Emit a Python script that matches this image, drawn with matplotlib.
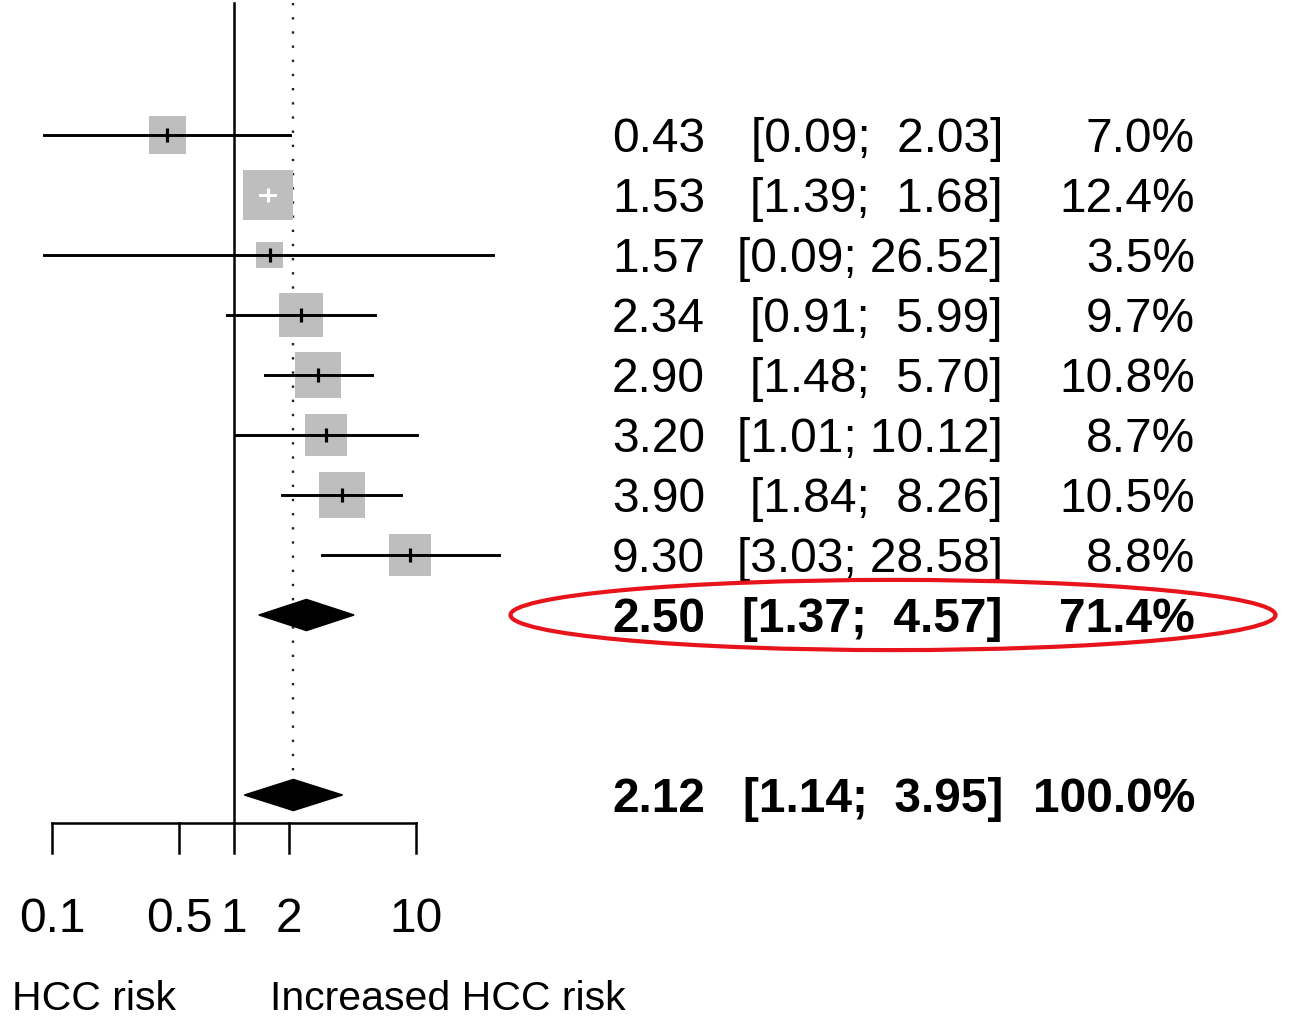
import matplotlib
matplotlib.use("Agg")
import matplotlib.pyplot as plt
import matplotlib.transforms as mtransforms
from matplotlib.patches import Ellipse, Polygon
import numpy as np

plt.rcParams["font.family"] = ["Liberation Sans", "DejaVu Sans"]

# study estimates (hazard ratio, 95% CI, weight %)
est = [0.43, 1.53, 1.57, 2.34, 2.90, 3.20, 3.90, 9.30]
lower = [0.09, 1.39, 0.09, 0.91, 1.48, 1.01, 1.84, 3.03]
upper = [2.03, 1.68, 26.52, 5.99, 5.70, 10.12, 8.26, 28.58]
weight = [7.0, 12.4, 3.5, 9.7, 10.8, 8.7, 10.5, 8.8]

# pooled estimates: subgroup and overall
pooled_est = [2.50, 2.12]
pooled_lower = [1.37, 1.14]
pooled_upper = [4.57, 3.95]
pooled_weight = [71.4, 100.0]

tick_values = [0.1, 0.5, 1, 2, 10]
tick_labels = ["0.1", "0.5", "1", "2", "10"]

W, H, DPI = 1291, 1016, 100
fig = plt.figure(figsize=(W / DPI, H / DPI), dpi=DPI)
ax = fig.add_axes([0, 0, 1, 1])
ax.set_xscale("log")
# 1 decade = 182 px, x=1 sits at 234 px; one row = 60 px, first row at 135 px
ax.set_xlim(10 ** (-234 / 182), 10 ** ((W - 234) / 182))
ax.set_ylim((H - 135) / 60, -135 / 60)
ax.axis("off")

rows = np.arange(len(est))
pooled_rows = [len(est), len(est) + 3]
axis_y = 11.47
top_y = -2.2

# reference line at 1 and dotted line at the overall estimate
ax.plot([1, 1], [top_y, axis_y], color="black", lw=1.8, zorder=2)
ax.plot([pooled_est[1]] * 2, [top_y, pooled_rows[1] - 0.25], color="#222222",
        lw=1.7, linestyle=(0, (1, 5)), zorder=1)

# squares, side proportional to sqrt(weight)
side_px = 14.2 * np.sqrt(weight)
ax.scatter(est, rows, marker="s", s=(side_px * 0.72) ** 2, color="#BEBEBE",
           edgecolors="none", zorder=3)

for i in rows:
    x0, _ = ax.transData.transform((lower[i], i))
    x1, _ = ax.transData.transform((upper[i], i))
    xc, _ = ax.transData.transform((est[i], i))
    inside = (xc - side_px[i] / 2 <= x0) and (x1 <= xc + side_px[i] / 2)
    col = "white" if inside else "black"
    ax.plot([lower[i], upper[i]], [i, i], color=col, lw=2.1, zorder=4)
    ax.plot(est[i], i, marker="|", markersize=10.5, mew=2.3, color=col, zorder=5)

# diamonds
for k, r in enumerate(pooled_rows):
    pts = [(pooled_lower[k], r), (pooled_est[k], r - 0.26),
           (pooled_upper[k], r), (pooled_est[k], r + 0.26)]
    ax.add_patch(Polygon(pts, closed=True, color="black", zorder=4))

# custom x axis
ax.plot([tick_values[0], tick_values[-1]], [axis_y, axis_y], color="black", lw=1.8)
for v, lab in zip(tick_values, tick_labels):
    ax.plot([v, v], [axis_y, axis_y + 0.5], color="black", lw=1.8)
    ax.text(v, 13.0, lab, ha="center", va="center_baseline", fontsize=34.5)

blend = mtransforms.blended_transform_factory(ax.transAxes, ax.transData)
ax.text(12 / W, 14.33, "HCC risk", transform=blend, ha="left",
        va="center_baseline", fontsize=29.5)
ax.text(270 / W, 14.33, "Increased HCC risk", transform=blend, ha="left",
        va="center_baseline", fontsize=29.5)

# right-hand text columns
col_x = [705 / W, 1003 / W, 1195 / W]


def row_text(y, e, lo, hi, w, bold=False):
    fw = "bold" if bold else "normal"
    ax.text(col_x[0], y, f"{e:.2f}", transform=blend, ha="right",
            va="center_baseline", fontsize=34.5, fontweight=fw)
    ax.text(col_x[1], y, f"[{lo:.2f};{hi:6.2f}]", transform=blend, ha="right",
            va="center_baseline", fontsize=34.5, fontweight=fw)
    ax.text(col_x[2], y, f"{w:.1f}%", transform=blend, ha="right",
            va="center_baseline", fontsize=34.5, fontweight=fw)


for i in rows:
    row_text(i, est[i], lower[i], upper[i], weight[i])
for k, r in enumerate(pooled_rows):
    row_text(r, pooled_est[k], pooled_lower[k], pooled_upper[k],
             pooled_weight[k], bold=True)

# red highlight around the subgroup result
ax.add_patch(Ellipse((893 / W, pooled_rows[0]), 765 / W, 1.17, transform=blend,
                     fill=False, edgecolor="#E8141B", lw=3, zorder=6))

fig.savefig("out.png", dpi=DPI)
